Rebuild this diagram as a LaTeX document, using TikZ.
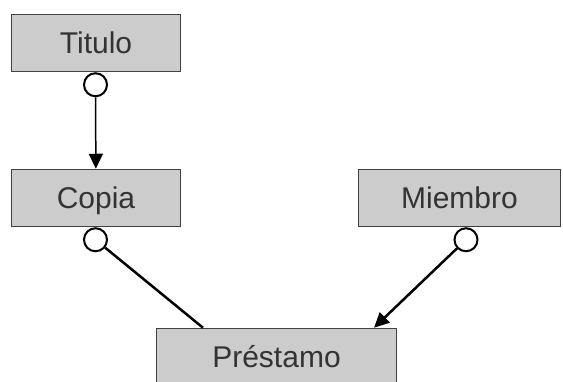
\documentclass[tikz,border=0pt]{standalone}
\usepackage{fontspec}
\setmainfont{Liberation Sans}
\usetikzlibrary{arrows.meta, calc}
\definecolor{boxgray}{HTML}{CCCCCC}
\definecolor{edgegray}{HTML}{404040}
\definecolor{textgray}{HTML}{333333}
\tikzstyle{entity} = [rectangle, minimum width=169pt, minimum height=57pt, inner sep=0pt, text height=21.5pt, text depth=0pt, draw=edgegray, line width=1.5pt, fill=boxgray, text=textgray, font=\fontsize{30}{36}\selectfont]
\tikzstyle{optional} = [circle, minimum size=23pt, inner sep=0pt, draw=black, line width=2pt, fill=white, anchor=north]
\tikzstyle{link} = [line width=2.5pt]

\begin{document}
\begin{tikzpicture}[x=1pt, y=-1pt]
      \useasboundingbox (0,0) rectangle (563,381);
      \node (titulo) [entity] at (96,43) {Titulo};
      \node (copia) [entity] at (96,198) {Copia};
      \node (miembro) [entity, minimum width=202pt] at (459.5,198) {Miembro};
      \node (prestamo) [entity, minimum width=240pt] at (276.5,357) {Préstamo};

      \node (titulo-opt) [optional] at ($(titulo.south)+(-0.5,0)$) {};
      \node (copia-opt) [optional] at ($(copia.south)+(-0.5,0)$) {};
      \node (miembro-opt) [optional] at ($(miembro.south)+(6.5,0)$) {};

      \draw [-{Triangle[length=15pt, width=14pt]}, line width=1.5pt] (titulo-opt) -- (copia);
      \draw [link] (copia-opt) -- ($(prestamo.north)+(-73.5,0)$);
      \draw [link, -{Triangle[length=15pt, width=14pt]}] (miembro-opt) -- ($(prestamo.north)+(97.5,0)$);
\end{tikzpicture}
\end{document}
